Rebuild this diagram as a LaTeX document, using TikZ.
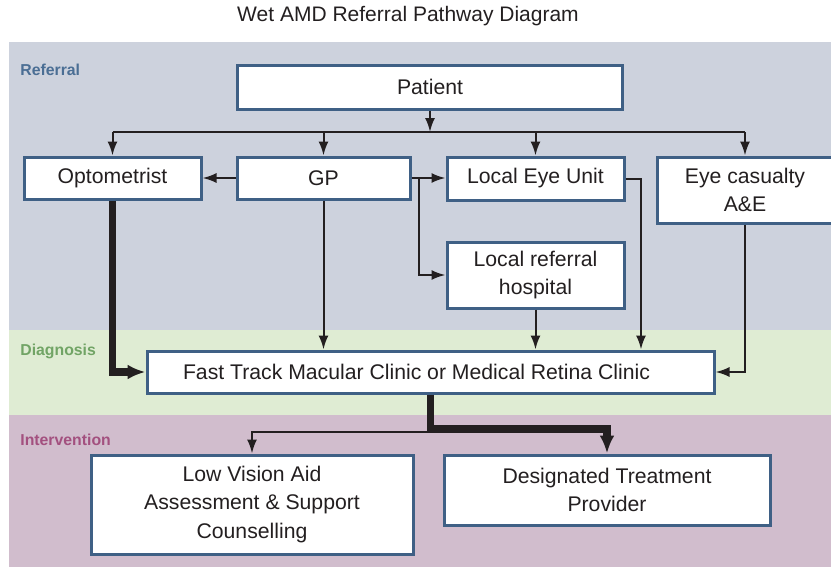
\documentclass[tikz,border=0pt]{standalone}
\usepackage{fontspec}
\setmainfont{Liberation Sans}
\usepackage{tikz}
\usetikzlibrary{arrows.meta}
\definecolor{refband}{HTML}{CDD2DD}
\definecolor{diaband}{HTML}{DFECD3}
\definecolor{intband}{HTML}{D1BDCD}
\definecolor{boxline}{HTML}{3F6085}
\definecolor{reftext}{HTML}{4A6E94}
\definecolor{diatext}{HTML}{71A465}
\definecolor{inttext}{HTML}{A3507F}
\definecolor{ink}{HTML}{231F20}
\tikzstyle{box}=[draw=boxline,line width=1.5pt,fill=white,align=center,inner sep=2pt,font=\fontsize{10.6}{14.2}\selectfont,text=ink]
\tikzstyle{edge} = [draw,ink,line width=1pt,-{Latex[length=7pt,width=5pt]}]
\tikzstyle{thickedge} = [draw,ink,line width=3.8pt,-{Latex[length=9pt,width=7.5pt]}]
\tikzstyle{band}=[font=\fontsize{7.9}{9}\selectfont\bfseries,anchor=west,inner sep=0pt]

\begin{document}
\begin{tikzpicture}[x=0.5pt,y=-0.5pt]
      \useasboundingbox (0,0) rectangle (831,568);
      % bands
      \fill[refband] (9,42) rectangle (831,330);
      \fill[diaband] (9,330) rectangle (831,415);
      \fill[intband] (9,415) rectangle (831,567);
      \node[font=\fontsize{10.5}{12}\selectfont,text=ink] (title) at (408,16) {Wet AMD Referral Pathway Diagram};
      \node[band,text=reftext] (referral) at (20,70) {Referral};
      \node[band,text=diatext] (diagnosis) at (20,351) {Diagnosis};
      \node[band,text=inttext] (intervention) at (20,440) {Intervention};
      % boxes
      \node[box,minimum width=192.5pt,minimum height=22pt] (patient) at (430,87) {Patient};
      \node[box,minimum width=88.5pt,minimum height=21pt] (opto) at (112.5,178) {Optometrist};
      \node[box,minimum width=86.5pt,minimum height=21pt] (gp) at (323.5,178) {GP};
      \node[box,minimum width=88.5pt,minimum height=21.5pt] (leu) at (535.5,178.5) {Local Eye Unit};
      \node[box,minimum width=88pt,minimum height=33pt] (casualty) at (745,190) {Eye casualty\\A\&E};
      \node[box,minimum width=88.5pt,minimum height=33pt] (lrh) at (535.5,275) {Local referral\\hospital};
      \node[box,minimum width=283.5pt,minimum height=21pt] (fast) at (430.5,372) {Fast Track Macular Clinic or Medical Retina Clinic\hspace*{14pt}};
      \node[box,minimum width=161pt,minimum height=49.5pt] (lva) at (252,504.5) {Low Vision Aid\\Assessment \& Support\\Counselling};
      \node[box,minimum width=163pt,minimum height=35pt] (dtp) at (607,490) {Designated Treatment\\Provider};
      % helper points
      \coordinate (bus) at (430,132);
      \coordinate (split) at (419,178);
      \coordinate (leuturn) at (641,178.5);
      \coordinate (fork) at (428,429);
      \coordinate (thinfork) at (428,432);
      % referral
      \draw[edge] (patient) to (bus);
      \draw[ink,line width=1pt] (opto.north |- bus) -- (casualty.north |- bus);
      \draw[edge] (opto.north |- bus) to (opto.north);
      \draw[edge] (gp.north |- bus) to (gp.north);
      \draw[edge] (leu.north |- bus) to (leu.north);
      \draw[edge] (casualty.north |- bus) to (casualty.north);
      \draw[edge] (gp.west) to (opto.east);
      \draw[edge] (gp.east) to (gp.east -| leu.west);
      \draw[edge] (split) |- (lrh.west);
      % diagnosis
      \draw[thickedge] (opto.south) |- (fast.west);
      \draw[edge] (gp.south) to (gp.south |- fast.north);
      \draw[edge] (lrh.south) to (lrh.south |- fast.north);
      \draw[edge] (leu.east) -- (leuturn) -- (leuturn |- fast.north);
      \draw[edge] (casualty.south) |- (fast.east);
      % intervention
      \draw[edge] (fast.south |- thinfork) -| (lva.north);
      \draw[thickedge] (fast.south) -- (fast.south |- fork) -| (dtp.north);
    \end{tikzpicture}
\end{document}
